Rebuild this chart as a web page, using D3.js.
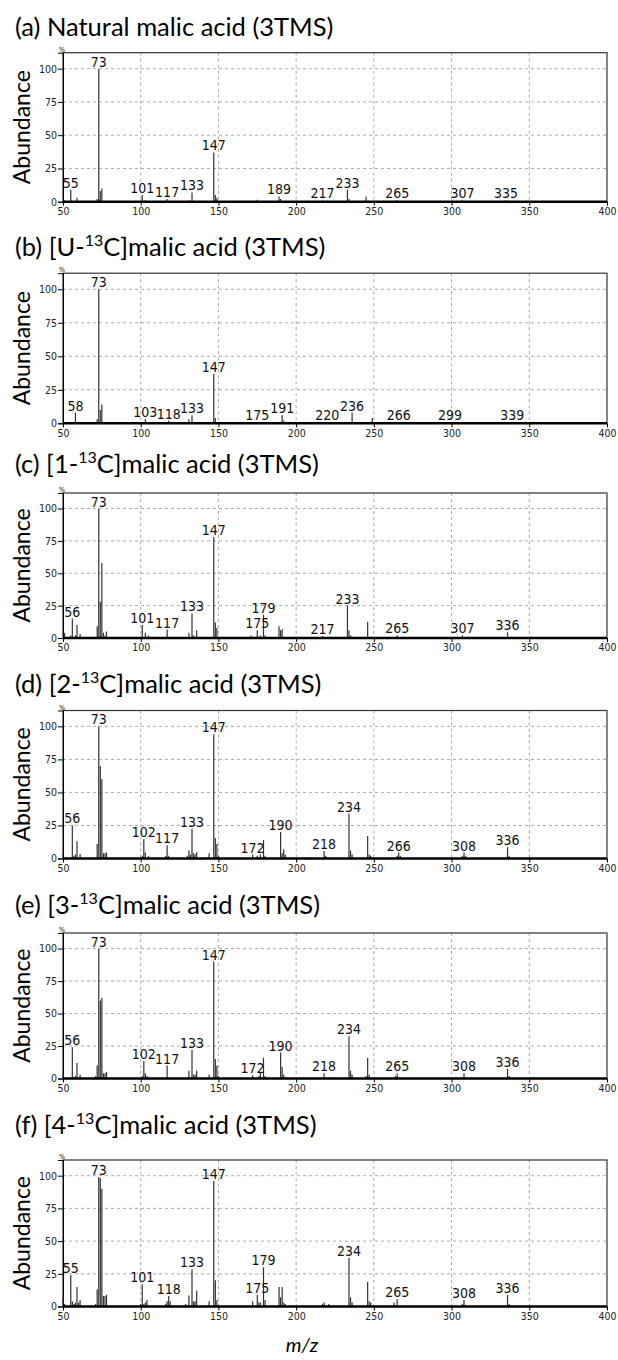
<!DOCTYPE html>
<html>
<head>
<meta charset="utf-8">
<script src="https://cdn.jsdelivr.net/npm/d3@7"></script>
<style>
  body { margin: 0; background: #fff; }
  svg { display: block; }
</style>
</head>
<body>
<div id="chart"></div>
<script>
// panel titles, split around the superscript
const titles = [
  ['(a) Natural malic acid (3TMS)', '', ''],
  ['(b) [U-', '13', 'C]malic acid (3TMS)'],
  ['(c) [1-', '13', 'C]malic acid (3TMS)'],
  ['(d) [2-', '13', 'C]malic acid (3TMS)'],
  ['(e) [3-', '13', 'C]malic acid (3TMS)'],
  ['(f) [4-', '13', 'C]malic acid (3TMS)']
]

const xTicks = [50, 100, 150, 200, 250, 300, 350, 400]
const yTicks = [0, 25, 50, 75, 100]

// [m/z, abundance %]
const peaksA = [[51, 1], [55, 9], [59, 3], [72, 2], [73, 100], [74, 8], [75, 10], [101, 5], [103, 1],
  [117, 2], [131, 1], [133, 7], [147, 37], [148, 5], [149, 3], [175, 1.5], [189, 4], [190, 2],
  [217, 1], [233, 9], [234, 2], [245, 4], [265, 1], [307, 1], [335, 1]]
const peaksB = [[58, 8], [72, 3], [73, 100], [74, 10], [75, 14], [103, 3], [118, 2], [131, 3], [133, 6],
  [147, 37], [148, 4], [149, 1], [175, 1], [191, 6], [192, 2], [220, 1], [236, 8], [249, 4],
  [266, 1], [299, 1], [339, 1]]
const peaksC = [[51, 4], [55, 2], [56, 15], [58, 2], [59, 10], [61, 3], [72, 9], [73, 100], [74, 28],
  [75, 58], [76, 4], [77, 2], [78, 5], [100, 1], [101, 10], [103, 4], [105, 2], [117, 6.5],
  [131, 4], [133, 19], [134, 2], [136, 6], [147, 78], [148, 12], [149, 8], [171, 2], [175, 6],
  [177, 2], [179, 18], [180, 2], [189, 9], [190, 6], [191, 7], [193, 1], [217, 1.5], [233, 25],
  [234, 6], [235, 2], [246, 12.5], [265, 2], [307, 2], [336, 4.5]]
const peaksD = [[50, 3], [52, 1], [56, 25], [57, 2], [58, 3], [59, 13], [61, 3.5], [65, 1], [70, 1],
  [72, 11], [73, 100], [74, 70], [75, 60], [76, 4], [77, 4], [78, 4.5], [86, 1], [88, 1], [100, 1],
  [101, 2], [102, 14.5], [103, 4.5], [105, 2], [116, 2], [117, 10], [118, 2], [130, 2], [131, 6],
  [132, 3], [133, 22.5], [134, 4], [135, 3], [136, 5], [143, 1], [144, 4], [147, 94], [148, 15.5],
  [149, 11], [150, 2], [172, 3], [175, 2], [177, 3], [179, 14], [180, 2], [190, 20], [191, 4],
  [192, 7], [193, 3], [194, 1], [205, 1], [208, 1], [218, 5.5], [219, 2], [220, 1], [222, 1],
  [234, 34], [235, 6], [236, 3], [246, 17], [247, 3], [248, 2], [264, 1], [265, 2], [266, 4.5],
  [267, 2], [306, 1], [307, 2], [308, 4.5], [309, 2], [320, 1], [335, 1], [336, 8.5], [337, 2]]
const peaksE = [[50, 4], [56, 24], [57, 1], [58, 2], [59, 12], [61, 3], [71, 2], [72, 10], [73, 100],
  [74, 60], [75, 62], [76, 4], [77, 4], [78, 5], [101, 2], [102, 13.5], [103, 4], [104, 2],
  [117, 10], [131, 6], [133, 22], [134, 3], [135, 3], [136, 6], [144, 3], [147, 90], [148, 15],
  [149, 10], [150, 2], [172, 2.5], [176, 2], [177, 4.5], [179, 16], [180, 2], [190, 20], [191, 9],
  [192, 3], [193, 1], [218, 4], [222, 1], [234, 32.5], [235, 6], [236, 3], [245, 2], [246, 16],
  [247, 3], [264, 2], [265, 4], [266, 1], [307, 1], [308, 4], [309, 1], [336, 7.5], [337, 2]]
const peaksF = [[50, 7], [51, 2], [55, 24], [56, 4], [57, 2], [58, 3], [59, 15], [60, 3], [61, 5],
  [71, 2], [72, 13], [73, 99], [74, 98], [75, 90], [76, 8], [77, 8], [78, 9], [100, 2], [101, 17],
  [102, 2], [103, 3], [104, 5], [116, 2], [117, 4], [118, 8], [119, 4], [129, 2], [131, 8.5],
  [133, 28.5], [134, 4], [135, 4], [136, 12], [144, 4], [147, 96], [148, 20], [149, 5], [172, 4],
  [175, 9], [176, 3], [177, 3], [179, 30], [180, 5], [189, 15], [190, 7], [191, 15], [192, 3],
  [193, 2], [216, 1], [217, 2], [218, 3], [219, 1], [221, 2], [234, 37], [235, 7], [236, 3],
  [246, 19], [247, 4], [248, 3], [263, 3], [265, 5.5], [307, 2], [308, 5], [309, 1], [320, 1],
  [336, 9], [337, 2], [338, 1]]

// m/z values carrying a number label
const labelsA = [55, 73, 101, 117, 133, 147, 189, 217, 233, 265, 307, 335]
const labelsB = [58, 73, 103, 118, 133, 147, 175, 191, 220, 236, 266, 299, 339]
const labelsC = [56, 73, 101, 117, 133, 147, 175, 179, 217, 233, 265, 307, 336]
const labelsD = [56, 73, 102, 117, 133, 147, 172, 190, 218, 234, 266, 308, 336]
const labelsE = [56, 73, 102, 117, 133, 147, 172, 190, 218, 234, 265, 308, 336]
const labelsF = [55, 73, 101, 118, 133, 147, 175, 179, 234, 265, 308, 336]

const peaks = [peaksA, peaksB, peaksC, peaksD, peaksE, peaksF]
const labels = [labelsA, labelsB, labelsC, labelsD, labelsE, labelsF]

// layout
const width = 618
const height = 1360
const plotLeft = 63
const plotRight = 607
const panelTop = [52.7, 273.2, 493, 710.5, 933, 1160]
const panelBottom = [201.7, 423.3, 638, 858.5, 1078.5, 1306.5]
const titleY = [36, 256, 473, 693, 914, 1134]

const narrow = '"Liberation Sans Narrow", "DejaVu Sans Condensed", "Liberation Sans", sans-serif'
const titleFont = 'Lato, "Open Sans", sans-serif'

const svg = d3
  .select('#chart')
  .append('svg')
  .attr('width', width)
  .attr('height', height)

const x = d3.scaleLinear().domain([50, 400]).range([plotLeft, plotRight])

peaks.forEach(function(data, i) {
  const y = d3.scaleLinear().domain([0, 112]).range([panelBottom[i], panelTop[i]])
  const g = svg.append('g')

  // title
  const t = g
    .append('text')
    .attr('x', 15)
    .attr('y', titleY[i])
    .attr('font-family', titleFont)
    .attr('font-size', 25.5)
    .attr('fill', '#000')
  t.append('tspan').text(titles[i][0])
  if (titles[i][1]) {
    t.append('tspan')
      .attr('font-size', 16)
      .attr('dy', -10)
      .text(titles[i][1])
    t.append('tspan')
      .attr('dy', 10)
      .text(titles[i][2])
  }

  // y label
  g.append('text')
    .attr('transform', `translate(30,${(panelTop[i] + panelBottom[i]) / 2}) rotate(-90)`)
    .attr('text-anchor', 'middle')
    .attr('font-family', titleFont)
    .attr('font-size', 23)
    .text('Abundance')

  // grid
  g.selectAll('.vgrid')
    .data(xTicks.slice(1, -1))
    .enter()
    .append('line')
    .attr('x1', d => x(d))
    .attr('x2', d => x(d))
    .attr('y1', panelTop[i])
    .attr('y2', panelBottom[i])
    .attr('stroke', '#aaa')
    .attr('stroke-dasharray', '3,3')
  g.selectAll('.hgrid')
    .data(yTicks.slice(1))
    .enter()
    .append('line')
    .attr('x1', plotLeft)
    .attr('x2', plotRight)
    .attr('y1', d => y(d))
    .attr('y2', d => y(d))
    .attr('stroke', '#aaa')
    .attr('stroke-dasharray', '3,3')

  // frame
  g.append('rect')
    .attr('x', plotLeft)
    .attr('y', panelTop[i])
    .attr('width', plotRight - plotLeft)
    .attr('height', panelBottom[i] - panelTop[i])
    .attr('fill', 'none')
    .attr('stroke', '#333')
    .attr('stroke-width', 1.2)

  // axes
  const left = g.append('g').attr('transform', `translate(${plotLeft},0)`)
  left.call(d3.axisLeft(y).tickValues(d3.range(0, 112, 5)).tickSize(2.5).tickFormat(''))
  left.call(d3.axisLeft(y).tickValues(yTicks).tickSize(5).tickPadding(1))
  left.selectAll('text').attr('font-family', narrow).attr('font-size', 10.5).attr('fill', '#222')
  left.selectAll('.domain').attr('stroke', '#000')

  const bottom = g.append('g').attr('transform', `translate(0,${panelBottom[i]})`)
  bottom.call(d3.axisBottom(x).tickValues(d3.range(50, 400, 10)).tickSize(3).tickFormat(''))
  bottom.call(d3.axisBottom(x).tickValues(xTicks).tickSize(4).tickPadding(2))
  bottom.selectAll('text').attr('font-family', narrow).attr('font-size', 10.5).attr('fill', '#222')
  bottom.selectAll('.domain').remove()

  g.append('text')
    .attr('x', plotLeft - 1)
    .attr('y', panelTop[i] - 1)
    .attr('text-anchor', 'middle')
    .attr('font-family', narrow)
    .attr('font-size', 7)
    .text('%')

  // peaks
  g.selectAll('.peak')
    .data(data)
    .enter()
    .append('line')
    .attr('x1', d => x(d[0]))
    .attr('x2', d => x(d[0]))
    .attr('y1', y(0))
    .attr('y2', d => y(d[1]))
    .attr('stroke', '#333')
    .attr('stroke-width', 1.2)

  // baseline
  g.append('line')
    .attr('x1', plotLeft)
    .attr('x2', plotRight)
    .attr('y1', y(0))
    .attr('y2', y(0))
    .attr('stroke', '#000')
    .attr('stroke-width', 2.5)

  // peak labels
  const lookup = new Map(data)
  g.selectAll('.plabel')
    .data(labels[i])
    .enter()
    .append('text')
    .attr('x', d => x(d))
    .attr('y', d => Math.min(y(lookup.get(d) || 0), y(0) - 1) - 2)
    .attr('text-anchor', 'middle')
    .attr('font-family', narrow)
    .attr('font-size', 14)
    .attr('fill', '#111')
    .text(d => d)
})

svg.append('text')
  .attr('x', 302)
  .attr('y', 1352)
  .attr('text-anchor', 'middle')
  .attr('font-family', titleFont)
  .attr('font-style', 'italic')
  .attr('font-size', 20)
  .text('m/z')
</script>
</body>
</html>
